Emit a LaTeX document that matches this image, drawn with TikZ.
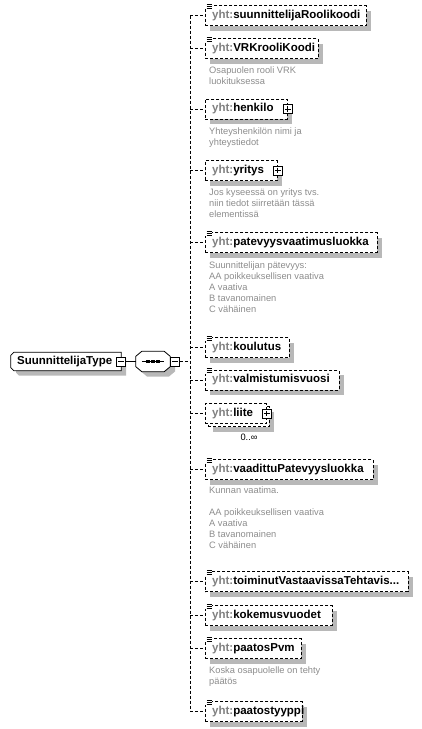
\documentclass[tikz,border=0pt]{standalone}
\usepackage{fontspec}
\setmainfont{Liberation Sans}
\definecolor{pfxc}{HTML}{808080}
\definecolor{dscc}{HTML}{8C8C8C}
\definecolor{shdc}{HTML}{B8B8B8}
\newcommand\xel[4]{%
  \path[fill=shdc] (210,#2+5) rectangle (#3+5,#2+25);
  \node[elem, minimum width={#3-205}] (#1) at (205,#2+10) {};
  \node[nm] (#1t) at ([xshift=7pt]#1.west) {\textcolor{pfxc}{yht:}#4};
}
\newcommand\xicon[1]{%
  \fill[white] (204.5,#1-3) rectangle (212,#1+3.5);
  \draw[icn] (206.5,#1-1.5) -- (211.5,#1-1.5) (206.5,#1+0.5) -- (211.5,#1+0.5) (206.5,#1+2.5) -- (211.5,#1+2.5);
}
\newcommand\xplus[1]{%
  \node[pmbox] (#1p) at (#1.east) {};
  \draw[pmline] ([xshift=2pt]#1p.west) -- ([xshift=-2pt]#1p.east) ([yshift=-2pt]#1p.north) -- ([yshift=2pt]#1p.south);
}
\newcommand\xdesc[3]{\node[dsc] (#1) at (209,#2-7.9) {\strut #3};}
\begin{document}
\begin{tikzpicture}[x=1pt,y=-1pt,
  elem/.style={draw, dash pattern=on 3pt off 2pt, line width=0.8pt, fill=white,
    minimum height=20pt, inner sep=0pt, anchor=west},
  nm/.style={anchor=west, inner sep=0pt, font=\fontsize{11.5}{13}\selectfont\bfseries},
  icn/.style={line width=0.8pt},
  pmbox/.style={draw, solid, fill=white, line width=0.7pt, minimum size=9pt, inner sep=0pt},
  pmline/.style={line width=0.7pt},
  dsc/.style={anchor=north west, inner sep=0pt, align=left, text=dscc, font=\fontsize{9.3}{11}\selectfont},
  conn/.style={dash pattern=on 3pt off 2pt, line width=0.8pt},
  solidconn/.style={line width=0.8pt},
  frame/.style={line width=0.8pt},
]
\useasboundingbox (0,0) rectangle (421,729);
\coordinate (spine) at (190,0);

% type node
\path[fill=shdc] (16,360.5) -- (19,357.5) -- (126,357.5) -- (126,375.5) -- (19,375.5) -- (16,372.5) -- cycle;
\node[minimum width=110pt, minimum height=18pt, inner sep=0pt] (typ) at (66,361.5) {};
\draw[frame, fill=white] ([yshift=-3pt]typ.north west) -- ([xshift=3pt]typ.north west) -- (typ.north east)
  -- (typ.south east) -- ([xshift=3pt]typ.south west) -- ([yshift=3pt]typ.south west) -- cycle;
\node[nm, anchor=west] (typt) at (17,361.5) {SuunnittelijaType};
\node[pmbox] (typm) at (typ.east) {};
\draw[pmline] ([xshift=2pt]typm.west) -- ([xshift=-2pt]typm.east);

% sequence compositor
\path[fill=shdc] (141,361.5) -- (147,356.5) -- (169,356.5) -- (175,361.5) -- (175,371.5) -- (169,376.5) -- (147,376.5) -- (141,371.5) -- cycle;
\node[minimum width=34pt, minimum height=20pt, inner sep=0pt] (seq) at (153,361.5) {};
\draw[frame, fill=white] ([yshift=-5pt]seq.north west) -- ([xshift=6pt]seq.north west) -- ([xshift=-6pt]seq.north east)
  -- ([yshift=-5pt]seq.north east) -- ([yshift=5pt]seq.south east) -- ([xshift=-6pt]seq.south east)
  -- ([xshift=6pt]seq.south west) -- ([yshift=5pt]seq.south west) -- cycle;
\draw[line width=0.8pt] ([xshift=6pt]seq.west) -- ([xshift=-6pt]seq.east);
\fill (148,361.5) +(-1.6,-1.6) rectangle +(1.6,1.6);
\fill (153,361.5) +(-1.6,-1.6) rectangle +(1.6,1.6);
\fill (158,361.5) +(-1.6,-1.6) rectangle +(1.6,1.6);
\node[pmbox, anchor=west] (seqm) at (seq.east) {};
\draw[pmline] ([xshift=2pt]seqm.west) -- ([xshift=-2pt]seqm.east);
\draw[solidconn] (typm.east) -- (seq.west);

% elements
\xel{e1}{5.5}{366}{suunnittelijaRoolikoodi}\xicon{5.5}
\xel{e2}{38.5}{318}{VRKrooliKoodi}\xicon{38.5}
\xdesc{d2}{73.5}{Osapuolen rooli VRK\\luokituksessa}
\xel{e3}{99}{287}{henkilo}\xplus{e3}
\xdesc{d3}{134.5}{Yhteyshenkilön nimi ja\\yhteystiedot}
\xel{e4}{160.5}{277}{yritys}\xplus{e4}
\xdesc{d4}{195.5}{Jos kyseessä on yritys tvs.\\niin tiedot siirretään tässä\\elementissä}
\xel{e5}{232.5}{376.5}{patevyysvaatimusluokka}\xicon{232.5}
\xdesc{d5}{268.5}{Suunnittelijan pätevyys:\\AA poikkeuksellisen vaativa\\A vaativa\\B tavanomainen\\C vähäinen}
\xel{e6}{337.5}{289}{koulutus}\xicon{337.5}
\xel{e7}{370}{338.5}{valmistumisvuosi}\xicon{370}
% liite (multiple)
\path[fill=shdc] (213,411.5) rectangle (274,431.5);
\node[elem, minimum width=61pt] (e8b) at (208,416.5) {};
\node[elem, minimum width=61pt] (e8) at (205,413.5) {};
\node[nm] (e8t) at ([xshift=7pt]e8.west) {\textcolor{pfxc}{yht:}liite};
\xplus{e8}
\node[inner sep=0pt, font=\fontsize{9.3}{11}\selectfont] (e8m) at (249,437) {0..∞};
\xel{e9}{459.5}{373}{vaadittuPatevyysluokka}\xicon{459.5}
\xdesc{d9}{493}{Kunnan vaatima.\\[11pt]AA poikkeuksellisen vaativa\\A vaativa\\B tavanomainen\\C vähäinen}
\xel{e10}{571.5}{407.5}{toiminutVastaavissaTehtavis...}\xicon{571.5}
\xel{e11}{605.5}{331.5}{kokemusvuodet}\xicon{605.5}
\xel{e12}{638.5}{301}{paatosPvm}\xicon{638.5}
\xdesc{d12}{673.5}{Koska osapuolelle on tehty\\päätös}
\xel{e13}{701.5}{301.5}{paatostyyppi}\xicon{701.5}

% connectors
\draw[conn] (seqm.east) -- (spine |- seqm.east);
\draw[conn] (spine |- e1.west) -- (spine |- e13.west);
\foreach \e in {e1,e2,e3,e4,e5,e6,e7,e8,e9,e10,e11,e12,e13}
  \draw[conn] (spine |- \e.west) -- (\e.west);
\end{tikzpicture}
\end{document}
